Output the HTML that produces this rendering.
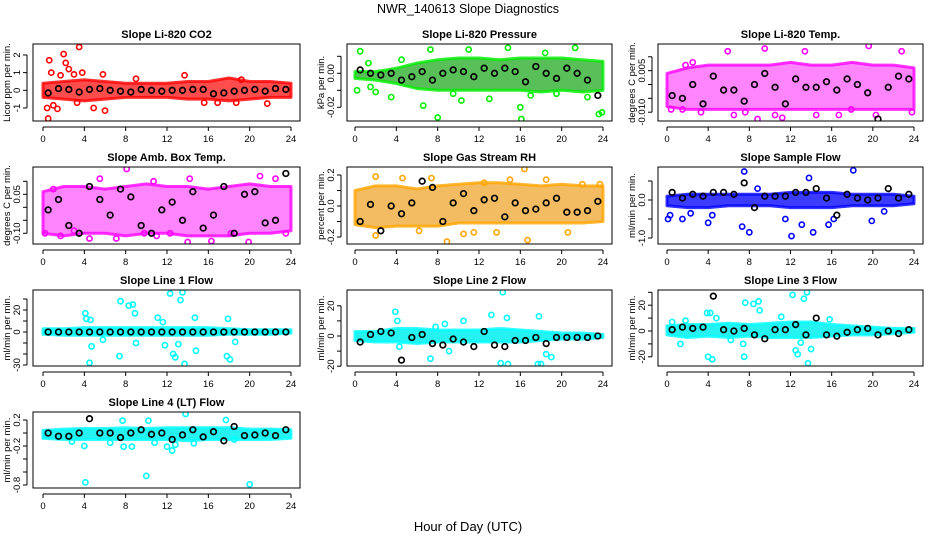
<!DOCTYPE html>
<html><head><meta charset="utf-8"><style>
html,body{margin:0;padding:0;background:#fff;}
svg{display:block;font-family:"Liberation Sans",Arial,sans-serif;}
</style></head><body>
<svg id="chart" width="936" height="540" viewBox="0 0 936 540" xmlns="http://www.w3.org/2000/svg">
<text x="468" y="13" text-anchor="middle" font-size="12.5">NWR_140613  Slope Diagnostics</text>
<text x="468" y="531" text-anchor="middle" font-size="13">Hour of Day (UTC)</text>
</svg>
<script>
// ---- data ----
const hours = [0.5,1.5,2.5,3.5,4.5,5.5,6.5,7.5,8.5,9.5,10.5,11.5,12.5,13.5,14.5,15.5,16.5,17.5,18.5,19.5,20.5,21.5,22.5,23.5];
const bandHours = [0,2,4,6,8,10,12,14,16,18,20,22,24];
const xTicks = [0,4,8,12,16,20,24];

const co2Low = [-0.4,-0.5,-0.6,-0.5,-0.4,-0.4,-0.4,-0.5,-0.5,-0.6,-0.5,-0.4,-0.4];
const co2High = [0.4,0.5,0.6,0.5,0.4,0.4,0.4,0.5,0.5,0.7,0.5,0.5,0.4];
const co2Black = [-0.15,0.1,0.05,-0.1,0.05,0.1,0,-0.05,-0.1,0.05,0,-0.05,0,0,0.05,0.05,-0.2,-0.15,-0.05,0,0.05,-0.05,0.1,0.05];
const co2Out = [[0.4,-1],[0.5,-1.6],[0.6,1.7],[0.8,1],[1,-0.85],[1.4,-1.05],[2,2.05],[2.2,1.55],[2.5,1.2],[3,0.9],[3.5,2.45],[3.8,1],[4.9,-1],[5.8,0.9],[6,-1.15],[9,0.65],[13.7,0.85],[15.6,-0.7],[16.9,-0.7],[18.7,-0.7],[19.2,0.6],[21.7,-0.75],[3.3,-0.7],[1.7,0.85]];

const prLow = [-0.003,-0.004,-0.006,-0.009,-0.01,-0.01,-0.01,-0.01,-0.01,-0.011,-0.01,-0.011,-0.01];
const prHigh = [0.001,0.001,0.003,0.006,0.008,0.009,0.009,0.008,0.009,0.009,0.009,0.008,0.007];
const prBlack = [0.002,0,-0.001,0,-0.004,-0.002,0.001,-0.004,0,0.002,0.001,-0.002,0.003,0,0.003,0.001,-0.005,0.004,0,-0.003,0.003,0,-0.004,-0.013];
const prOut = [[0.2,-0.01],[0.5,0.013],[1.3,0.006],[1.5,-0.008],[2,-0.011],[3.5,-0.014],[4.5,0.008],[6.6,-0.019],[7.3,0.014],[8,-0.026],[9.5,-0.012],[11,0.014],[13,-0.015],[14.8,0.015],[16,-0.02],[16.1,-0.027],[18.4,0.012],[19.5,-0.012],[21.3,0.015],[22.5,-0.014],[23.6,-0.024],[23.9,-0.023],[17,-0.013],[10.3,-0.016]];

const tpLow = [-0.008,-0.009,-0.009,-0.009,-0.009,-0.009,-0.009,-0.009,-0.009,-0.009,-0.009,-0.009,-0.009];
const tpHigh = [0.004,0.006,0.007,0.007,0.007,0.007,0.008,0.007,0.007,0.008,0.007,0.007,0.006];
const tpBlack = [-0.004,-0.005,0,-0.007,0.003,-0.002,-0.002,-0.006,0,0.004,-0.001,-0.007,0.002,-0.001,-0.001,0.001,-0.002,0.002,0,-0.003,-0.013,-0.001,0.003,0.002];
const tpOut = [[0.4,-0.009],[1.5,-0.009],[1.8,0.007],[3.3,-0.01],[5.9,0.012],[7.6,-0.01],[8.8,-0.015],[9.5,0.013],[10.5,-0.011],[11.2,-0.012],[13.4,0.012],[16.7,-0.011],[17.9,-0.009],[19.6,0.014],[20.3,-0.011],[22.8,0.012],[23.8,-0.01],[2.5,0.008],[14.5,-0.011],[6.5,-0.011]];

const abLow = [-0.1,-0.11,-0.1,-0.1,-0.11,-0.1,-0.1,-0.11,-0.11,-0.11,-0.1,-0.1,-0.09];
const abHigh = [0.06,0.08,0.08,0.07,0.08,0.09,0.08,0.08,0.07,0.08,0.09,0.08,0.08];
const abBlack = [-0.01,0.03,-0.07,-0.1,0.08,0.03,-0.03,0.07,0.04,-0.07,-0.1,-0.01,0.02,-0.05,0.06,-0.08,-0.03,0.08,-0.1,0.05,0.06,-0.06,-0.05,0.13];
const abOut = [[0.2,-0.1],[1,0.07],[1.7,-0.11],[3,-0.09],[4.5,-0.12],[7.1,-0.12],[8.1,0.15],[9.8,-0.1],[11,-0.11],[12.3,-0.1],[14,-0.14],[14.2,0.11],[16.3,-0.13],[18.2,-0.1],[19.9,-0.14],[21,0.12],[22.5,0.11],[23.5,-0.1],[5.5,0.11],[10.7,0.1]];

const rhLow = [-0.12,-0.14,-0.13,-0.13,-0.13,-0.11,-0.11,-0.11,-0.11,-0.11,-0.11,-0.11,-0.1];
const rhHigh = [0.1,0.13,0.13,0.11,0.13,0.14,0.15,0.15,0.14,0.13,0.14,0.13,0.13];
const rhBlack = [-0.1,0.01,-0.16,0,-0.05,0.02,0.16,0.12,-0.1,0.02,0.08,-0.03,0.04,0.05,-0.07,0.02,-0.03,-0.02,0.02,0.05,-0.04,-0.04,-0.03,0.03];
const rhOut = [[2,0.19],[2,-0.19],[4.6,0.18],[7.4,0.18],[8.9,-0.23],[10.5,-0.18],[12.5,0.15],[13.7,-0.17],[15,0.17],[16.4,0.26],[16.7,-0.22],[18.5,0.17],[20.6,-0.17],[22,0.14],[23.7,0.14],[11.5,-0.17],[6.2,-0.16]];

const sfLow = [-0.15,-0.2,-0.2,-0.15,-0.15,-0.15,-0.2,-0.2,-0.2,-0.15,-0.15,-0.15,-0.1];
const sfHigh = [0.1,0.15,0.15,0.15,0.15,0.15,0.2,0.2,0.2,0.15,0.15,0.15,0.1];
const sfBlack = [0.2,0.05,0.15,0.1,0.2,0.2,0.15,0.45,-0.2,0.1,0.1,0.1,0.2,0.2,0.3,0.05,-0.4,0.15,0.05,0.0,0.05,0.3,0.05,0.15];
const sfOut = [[0.1,-0.5],[0.3,-0.4],[1.5,-0.5],[4,-0.6],[4.4,-0.4],[7.3,-0.7],[7.5,0.75],[8,-0.85],[8.8,0.3],[12.1,-0.95],[13.1,-0.65],[13.8,0.58],[14.2,-0.85],[15.7,-0.65],[16.2,-0.5],[18.1,0.78],[19.9,-0.55],[21.1,-0.3],[2.3,-0.35],[11.5,-0.5]];

const l1Low = [-2,-3,-3,-3,-3,-3,-3,-3,-3,-2,-2,-2,-1];
const l1High = [3,3,4,4,4,4,4,4,4,3,2,2,2];
const l1Black = [0,0,0,0,0,0,0,0,0,0,0,0,0,0,0,0,0,0,0,0,0,0,0,0];
const l1Out = [[4.1,17],[4.2,12],[4.5,-28],[4.6,11],[4.7,-13],[5.8,-7],[7.4,-22],[7.5,28],[8.3,24],[8.7,25],[8.9,17],[9,-10],[11.1,13],[11.8,-12],[12.3,35],[12.6,-20],[12.8,-23],[13.1,-11],[13.3,29],[13.5,36],[13.7,-29],[14.7,13],[14.8,-17],[17.8,-22],[18.1,-25],[17.9,12],[18.6,-9],[11.6,9]];

const l2Low = [-3,-4,-4,-5,-4,-4,-4,-4,-4,-3,-2,-2,-1];
const l2High = [3,3,5,5,4,4,4,5,4,3,2,2,1];
const l2Black = [-4,1,3,2,-16,-1,1,-5,-6,-2,-4,-7,3,-6,-7,-3,-3,-1,-5,-1,-1,-1,-1,0];
const l2Out = [[3.9,16],[4.1,10],[4.3,-7],[7.3,-15],[7.8,6],[8.7,8],[9.1,-10],[10.5,10],[13.2,14],[14.3,29],[14.7,12],[14.1,-18],[14.8,-19],[17.7,-25],[18,-23],[17.8,13],[18.5,-12],[19,-14]];

const l3Low = [-3,-5,-4,-5,-4,-5,-5,-5,-4,-3,-3,-2,-1];
const l3High = [4,5,5,6,5,6,7,7,5,4,3,2,2];
const l3Black = [1,3,2,3,27,1,0,2,-3,-6,1,1,5,-3,10,-3,-4,-1,1,2,-3,0,-2,1];
const l3Out = [[0.5,7],[1.3,-10],[1.8,8],[4.2,14],[4.4,-22],[4.8,10],[6.2,-7],[7.4,-10],[7.5,-20],[7.6,22],[8.4,21],[8.9,23],[9,16],[11.1,11],[12.2,28],[12.5,-15],[12.7,-18],[13,-9],[13.3,25],[13.6,30],[13.7,-25],[14,-14],[15.8,9],[4,-20],[3.9,14]];

const l4Low = [-0.08,-0.1,-0.1,-0.1,-0.1,-0.1,-0.1,-0.12,-0.1,-0.1,-0.1,-0.1,-0.08];
const l4High = [0.04,0.06,0.07,0.07,0.08,0.07,0.08,0.08,0.08,0.08,0.06,0.06,0.05];
const l4Black = [0,-0.05,-0.05,0,0.22,0,0,-0.07,0,0.05,-0.02,0,-0.1,-0.03,0.05,-0.06,0.02,-0.12,0.1,-0.04,-0.03,0,-0.04,0.05];
const l4Out = [[2.8,-0.13],[4,-0.2],[4.1,-0.76],[7.7,0.19],[7.8,-0.21],[8.6,-0.21],[10,-0.66],[10.2,0.19],[10.8,-0.15],[12,-0.21],[12.5,-0.27],[12.8,-0.18],[13.8,0.3],[14.6,-0.16],[17.7,0.2],[20,-0.79],[6.5,-0.15],[18.5,-0.1]];

// ---- panels ----
const panels = [
 {name:'li820-co2',title:'Slope Li-820 CO2',ylab:'Licor ppm per min.',bx:[33,300],by:[44,121],x0:43,x24:291,yz:90.3,ys:17.67,ticks:[-1,0,1,2],labs:{'-1':'-1','0':'0','1':'1','2':'2'},col:'#ff0000',band:'#ff2020',op:0.8,low:co2Low,high:co2High,black:co2Black,out:co2Out},
 {name:'li820-pressure',title:'Slope Li-820 Pressure',ylab:'kPa per min.',bx:[347,612],by:[44,121],x0:355,x24:603,yz:73.3,ys:1700,ticks:[-0.02,-0.01,0,0.01],labs:{'-0.02':'-0.02','0':'0.00'},col:'#00ee00',band:'#22aa22',op:0.75,low:prLow,high:prHigh,black:prBlack,out:prOut},
 {name:'li820-temp',title:'Slope Li-820 Temp.',ylab:'degrees C per min.',bx:[658,923],by:[44,121],x0:667,x24:914,yz:84.5,ys:2770,ticks:[-0.01,-0.005,0,0.005,0.01],labs:{'-0.01':'-0.010','0.005':'0.005'},col:'#ff00ff',band:'#ff33ff',op:0.6,low:tpLow,high:tpHigh,black:tpBlack,out:tpOut},
 {name:'amb-box-temp',title:'Slope Amb. Box Temp.',ylab:'degrees C per min.',bx:[33,300],by:[167,244],x0:43,x24:291,yz:207.3,ys:260,ticks:[-0.1,-0.05,0,0.05,0.1],labs:{'-0.1':'-0.10','0.05':'0.05'},col:'#ff00ff',band:'#ff33ff',op:0.6,low:abLow,high:abHigh,black:abBlack,out:abOut},
 {name:'gas-stream-rh',title:'Slope Gas Stream RH',ylab:'percent per min.',bx:[347,612],by:[167,244],x0:355,x24:603,yz:206,ys:155,ticks:[-0.2,-0.1,0,0.1,0.2],labs:{'-0.2':'-0.2','0':'0.0','0.2':'0.2'},col:'#ffa500',band:'#f0a020',op:0.7,low:rhLow,high:rhHigh,black:rhBlack,out:rhOut},
 {name:'sample-flow',title:'Slope Sample Flow',ylab:'ml/min per min.',bx:[658,923],by:[167,244],x0:667,x24:914,yz:200,ys:38,ticks:[-1,-0.5,0,0.5],labs:{'-1':'-1.0','0':'0.0'},col:'#0000ff',band:'#1a1aff',op:0.85,low:sfLow,high:sfHigh,black:sfBlack,out:sfOut},
 {name:'line1-flow',title:'Slope Line 1 Flow',ylab:'ml/min per min.',bx:[33,300],by:[290,366],x0:43,x24:291,yz:332,ys:1.1,ticks:[-30,-20,-10,0,10,20,30],labs:{'-30':'-30','0':'0','20':'20'},col:'#00ffff',band:'#00f0f0',op:0.85,low:l1Low,high:l1High,black:l1Black,out:l1Out},
 {name:'line2-flow',title:'Slope Line 2 Flow',ylab:'ml/min per min.',bx:[347,612],by:[290,366],x0:355,x24:603,yz:336,ys:1.51,ticks:[-20,-10,0,10,20],labs:{'-20':'-20','0':'0','20':'20'},col:'#00ffff',band:'#00f0f0',op:0.85,low:l2Low,high:l2High,black:l2Black,out:l2Out},
 {name:'line3-flow',title:'Slope Line 3 Flow',ylab:'ml/min per min.',bx:[658,923],by:[290,366],x0:667,x24:914,yz:331,ys:1.29,ticks:[-30,-20,-10,0,10,20,30],labs:{'-20':'-20','0':'0','20':'20'},col:'#00ffff',band:'#00f0f0',op:0.85,low:l3Low,high:l3High,black:l3Black,out:l3Out},
 {name:'line4-lt-flow',title:'Slope Line 4 (LT) Flow',ylab:'ml/min per min.',bx:[33,300],by:[412,488],x0:43,x24:291,yz:433,ys:65,ticks:[-0.8,-0.6,-0.4,-0.2,0,0.2],labs:{'-0.8':'-0.8','-0.2':'-0.2','0.2':'0.2'},col:'#00ffff',band:'#00f0f0',op:0.85,low:l4Low,high:l4High,black:l4Black,out:l4Out}
];

const NS='http://www.w3.org/2000/svg';
const svg=document.getElementById('chart');
function mk(tag,attrs,parent){const e=document.createElementNS(NS,tag);for(const k in attrs)e.setAttribute(k,attrs[k]);(parent||svg).appendChild(e);return e;}

panels.forEach(p=>{
  const g=mk('g',{});
  
  
  const xs=h=>p.x0+(p.x24-p.x0)*h/24;
  const ys=v=>p.yz-p.ys*v;
  const clamp=y=>Math.max(p.by[0]+2,Math.min(p.by[1]-2,y));
  const t=mk('text',{x:(p.bx[0]+p.bx[1])/2,y:p.by[0]-6,'text-anchor':'middle','font-size':'11','font-weight':'bold'},g);
  t.textContent=p.title;
  
  
  const cid='c'+p.name;
  const cp=mk('clipPath',{id:cid},g);mk('rect',{x:p.bx[0],y:p.by[0],width:p.bx[1]-p.bx[0],height:p.by[1]-p.by[0]},cp);
  const pg=mk('g',{'clip-path':'url(#'+cid+')'},g);
  let pts=bandHours.map((h,i)=>xs(h)+','+ys(p.high[i]));
  pts=pts.concat(bandHours.map((h,i)=>xs(h)+','+ys(p.low[i])).reverse());
  const band=mk('polygon',{points:pts.join(' '),fill:p.band,'fill-opacity':p.op,stroke:p.col,'stroke-opacity':'0.8','stroke-width':'3','stroke-linejoin':'round'},pg);
  
  
  p.out.forEach(d=>{
    const c=mk('circle',{cx:xs(d[0]),cy:clamp(ys(d[1])),r:2.6,fill:'none',stroke:p.col,'stroke-width':'1.6'},pg);
    
    
  });
  hours.forEach((h,i)=>{
    const c=mk('circle',{cx:xs(h),cy:clamp(ys(p.black[i])),r:2.8,fill:'none',stroke:'#000','stroke-width':'1.7'},pg);
    
    
  });
  const box=mk('rect',{x:p.bx[0],y:p.by[0],width:p.bx[1]-p.bx[0],height:p.by[1]-p.by[0],fill:'none',stroke:'#000','stroke-width':'1'},g);
  
  
  const ay=p.by[1]+6;
  mk('line',{x1:xs(0),x2:xs(24),y1:ay,y2:ay,stroke:'#000'},g);
  xTicks.forEach(h=>{
    mk('line',{x1:xs(h),x2:xs(h),y1:ay,y2:ay+4,stroke:'#000'},g);
    const l=mk('text',{x:xs(h),y:ay+15,'text-anchor':'middle','font-size':'9.5'},g);
    l.textContent=h;
    
    
  });
  const ax=p.bx[0]-6;
  const tv=p.ticks.filter(v=>ys(v)>=p.by[0]-2&&ys(v)<=p.by[1]+2);
  mk('line',{x1:ax,x2:ax,y1:ys(tv[0]),y2:ys(tv[tv.length-1]),stroke:'#000'},g);
  tv.forEach(v=>{
    mk('line',{x1:ax-4,x2:ax,y1:ys(v),y2:ys(v),stroke:'#000'},g);
    const lab=p.labs[String(v)];
    if(lab!==undefined){
      const l=mk('text',{x:0,y:0,'text-anchor':'middle','font-size':'9.5',transform:'translate('+(ax-7)+','+ys(v)+') rotate(-90)'},g);
      l.textContent=lab;
      
      
    }
  });
  const yl=mk('text',{x:0,y:0,'text-anchor':'middle','font-size':'9.5',transform:'translate('+(p.bx[0]-23)+','+((p.by[0]+p.by[1])/2)+') rotate(-90)'},g);
  yl.textContent=p.ylab;
  
  
});
</script>
</body></html>
